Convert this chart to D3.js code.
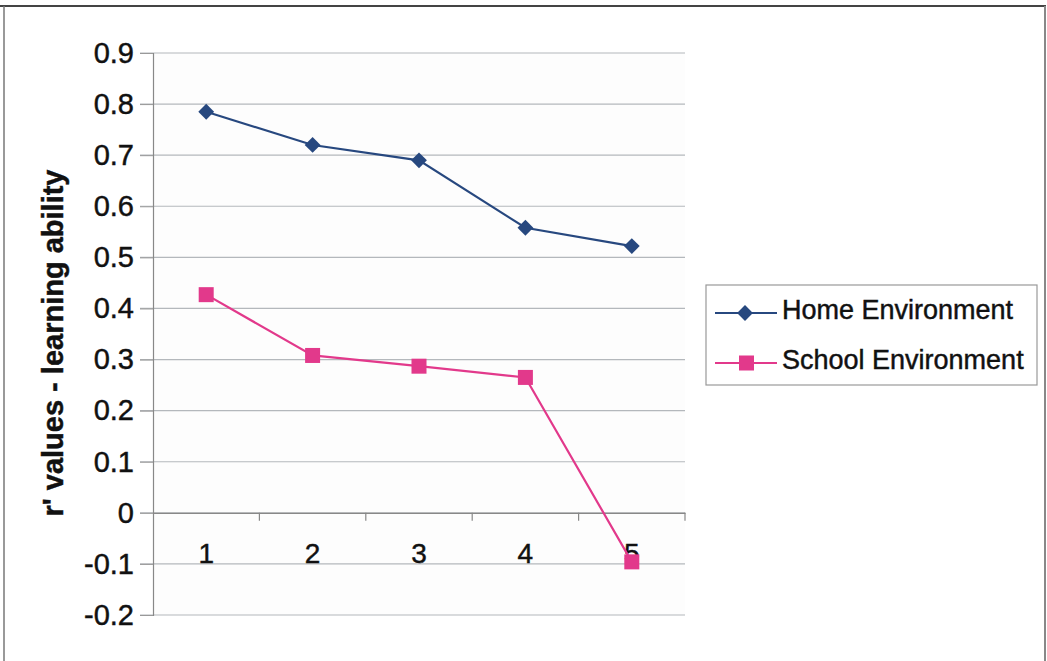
<!DOCTYPE html>
<html>
<head>
<meta charset="utf-8">
<script src="https://cdn.jsdelivr.net/npm/d3@7"></script>
<style>
  html, body { margin: 0; padding: 0; background: #fff; }
  svg { display: block; }
  text { font-family: "Liberation Sans", Arial, sans-serif; fill: #111; stroke: #111; stroke-width: 0.45px; }
</style>
</head>
<body>
<svg id="chart" width="1047" height="661"></svg>
<script>
// ---- data ----
const categories = ["1", "2", "3", "4", "5"];
const homeValues = [0.785, 0.72, 0.69, 0.558, 0.522];
const schoolValues = [0.427, 0.308, 0.287, 0.265, -0.096];
const seriesNames = ["Home Environment", "School Environment"];
const yTicks = [-0.2, -0.1, 0, 0.1, 0.2, 0.3, 0.4, 0.5, 0.6, 0.7, 0.8, 0.9];
const yTitle = "r' values - learning ability";

const homeColor = "#27487f";
const schoolColor = "#e2398b";

const svg = d3.select("#chart");

// outer frame
svg.append("line").attr("x1", 0).attr("x2", 1046).attr("y1", 6).attr("y2", 6)
  .attr("stroke", "#444").attr("stroke-width", 2);
svg.append("line").attr("x1", 4).attr("x2", 4).attr("y1", 6).attr("y2", 661)
  .attr("stroke", "#777").attr("stroke-width", 1.5);
svg.append("line").attr("x1", 1045).attr("x2", 1045).attr("y1", 6).attr("y2", 661)
  .attr("stroke", "#888").attr("stroke-width", 2);

const pLeft = 153, pRight = 685, pTop = 53, pBottom = 615;
const x = d3.scaleBand().domain(categories).range([pLeft, pRight]).paddingInner(0).paddingOuter(0);
const y = d3.scaleLinear().domain([-0.2, 0.9]).range([pBottom, pTop]);
const fmt = d => d === 0 ? "0" : d.toFixed(1);

// plot background
svg.append("rect").attr("x", pLeft).attr("y", pTop).attr("width", pRight - pLeft).attr("height", pBottom - pTop)
  .attr("fill", "#fdfdfd");

// gridlines
svg.append("g").selectAll("line").data(yTicks).join("line")
  .attr("x1", pLeft - 13).attr("x2", pRight)
  .attr("y1", d => y(d)).attr("y2", d => y(d))
  .attr("stroke", "#b4b8bc").attr("stroke-width", 1.2);

// y axis
const yAxis = svg.append("g").attr("transform", `translate(${pLeft},0)`)
  .call(d3.axisLeft(y).tickValues(yTicks).tickFormat(fmt).tickSize(13).tickPadding(6));
yAxis.select(".domain").attr("stroke", "#888").attr("stroke-width", 1.2);
yAxis.selectAll(".tick line").attr("stroke", "#999");
yAxis.selectAll("text").attr("font-size", 29).attr("fill", "#111")
  .attr("font-family", "Liberation Sans, Arial, sans-serif");

// x axis at zero
const xAxis = svg.append("g").attr("transform", `translate(0,${y(0)})`)
  .call(d3.axisBottom(x).tickSize(0).tickPadding(30));
xAxis.select(".domain").attr("stroke", "#888").attr("stroke-width", 1.2);
xAxis.selectAll("text").attr("font-size", 28).attr("fill", "#111")
  .attr("font-family", "Liberation Sans, Arial, sans-serif");
// tick marks at category boundaries
xAxis.append("g").selectAll("line").data(categories).join("line")
  .attr("x1", d => x(d) + x.bandwidth()).attr("x2", d => x(d) + x.bandwidth())
  .attr("y1", 0).attr("y2", 8).attr("stroke", "#888").attr("stroke-width", 1.2);

// y title
svg.append("text")
  .attr("transform", `translate(63,343) rotate(-90)`)
  .attr("text-anchor", "middle")
  .attr("font-size", 29).attr("font-weight", "bold")
  .text(yTitle);

const cx = d => x(d) + x.bandwidth() / 2;
const line = d3.line().x((d, i) => cx(categories[i])).y(d => y(d));

// home series
svg.append("path").datum(homeValues).attr("d", line)
  .attr("fill", "none").attr("stroke", homeColor).attr("stroke-width", 2.2);
svg.append("g").selectAll("path").data(homeValues).join("path")
  .attr("d", d3.symbol(d3.symbolSquare, 125))
  .attr("transform", (d, i) => `translate(${cx(categories[i])},${y(d)}) rotate(45)`)
  .attr("fill", homeColor);

// school series
svg.append("path").datum(schoolValues).attr("d", line)
  .attr("fill", "none").attr("stroke", schoolColor).attr("stroke-width", 2.2);
svg.append("g").selectAll("rect").data(schoolValues).join("rect")
  .attr("x", (d, i) => cx(categories[i]) - 7.5).attr("y", d => y(d) - 7.5)
  .attr("width", 15).attr("height", 15)
  .attr("fill", schoolColor);

// legend
const lg = svg.append("g");
lg.append("rect").attr("x", 706).attr("y", 285).attr("width", 331).attr("height", 100)
  .attr("fill", "#fff").attr("stroke", "#999").attr("stroke-width", 1.2);
const rows = [{name: seriesNames[0], color: homeColor, yy: 313, shape: "diamond"},
              {name: seriesNames[1], color: schoolColor, yy: 363, shape: "square"}];
rows.forEach(r => {
  lg.append("line").attr("x1", 715).attr("x2", 777).attr("y1", r.yy).attr("y2", r.yy)
    .attr("stroke", r.color).attr("stroke-width", 2);
  if (r.shape === "diamond") {
    lg.append("path").attr("d", d3.symbol(d3.symbolSquare, 125))
      .attr("transform", `translate(745,${r.yy}) rotate(45)`).attr("fill", r.color);
  } else {
    lg.append("rect").attr("x", 739).attr("y", r.yy - 7.5).attr("width", 15).attr("height", 15)
      .attr("fill", r.color);
  }
  lg.append("text").attr("x", 782).attr("y", r.yy + 6).attr("font-size", 27).text(r.name);
});
</script>
</body>
</html>
